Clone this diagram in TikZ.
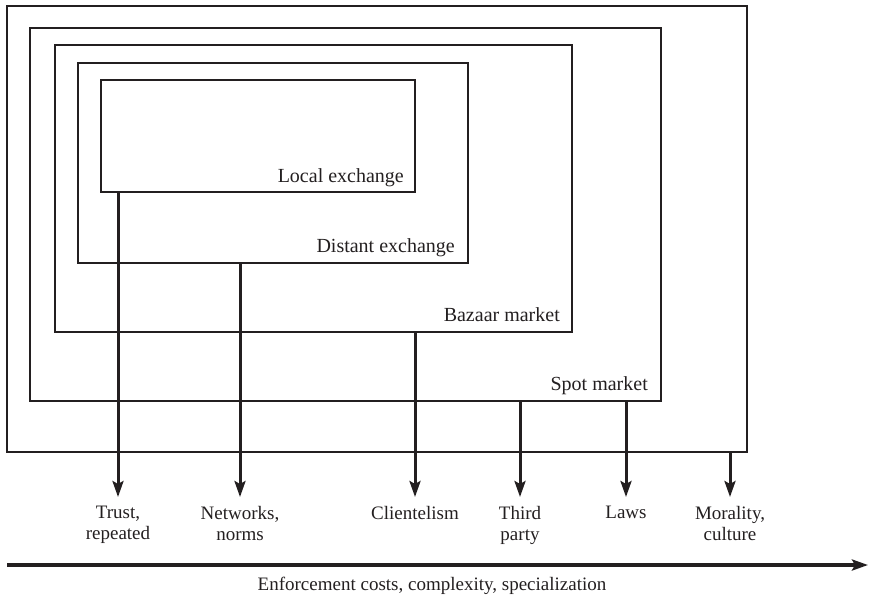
\documentclass[tikz,border=0pt]{standalone}
\usepackage{fontspec}
\setmainfont{Liberation Serif}
\usetikzlibrary{arrows.meta,positioning}
\definecolor{ink}{RGB}{35,31,32}
\begin{document}
\begin{tikzpicture}[x=1pt,y=-1pt,font=\fontsize{19}{21}\selectfont,line join=miter,
    >={Stealth[length=16pt,width=11pt,inset=3pt]},
    box/.style={draw=ink,line width=2.4pt,inner sep=0pt,outer sep=0pt,anchor=north west},
    boxlabel/.style={anchor=base east,inner sep=0pt,text=ink,font=\fontsize{20}{22}\selectfont},
    effect/.style={anchor=north,align=center,inner sep=0pt,text=ink},
    arr/.style={->,draw=ink,line width=3pt},
    axis/.style={->,draw=ink,line width=4pt}]
\useasboundingbox (0,0) rectangle (869,598);
% nested forms of exchange
\node[box,minimum width=740pt,minimum height=446pt] (outer) at (7,6) {};
\node[box,minimum width=631pt,minimum height=373pt] (spot) at (30,28) {};
\node[box,minimum width=517pt,minimum height=287pt] (bazaar) at (55,45) {};
\node[box,minimum width=390pt,minimum height=200pt] (distant) at (78,63) {};
\node[box,minimum width=314pt,minimum height=112pt] (local) at (101,80) {};
\node[boxlabel] (locallbl) at ([xshift=-11pt,yshift=10pt]local.south east) {Local exchange};
\node[boxlabel] (distantlbl) at ([xshift=-13pt,yshift=11pt]distant.south east) {Distant exchange};
\node[boxlabel] (bazaarlbl) at ([xshift=-12pt,yshift=11pt]bazaar.south east) {Bazaar market};
\node[boxlabel] (spotlbl) at ([xshift=-13pt,yshift=11pt]spot.south east) {Spot market};
% enforcement
\node[effect] (trust) at (118,506) {Trust,\\repeated};
\node[effect] (networks) at (240,506) {Networks,\\norms};
\node[effect] (clientelism) at (415,506) {Clientelism};
\node[effect] (thirdparty) at (520,506) {Third\\party};
\node[effect] (laws) at (626,506) {Laws};
\node[effect] (morality) at (730,506) {Morality,\\culture};
\draw[arr] (trust |- local.south) -- ([yshift=9pt]trust.north);
\draw[arr] (networks |- distant.south) -- ([yshift=9pt]networks.north);
\draw[arr] (clientelism |- bazaar.south) -- ([yshift=9pt]clientelism.north);
\draw[arr] (thirdparty |- spot.south) -- ([yshift=9pt]thirdparty.north);
\draw[arr] (laws |- spot.south) -- ([yshift=9pt]laws.north);
\draw[arr] (morality |- outer.south) -- ([yshift=9pt]morality.north);
% axis
\coordinate (axisstart) at (7,565);
\coordinate (axisend) at (868,565);
\draw[axis] (axisstart) -- (axisend);
\node[anchor=base,inner sep=0pt,text=ink] (axislbl) at (432,590) {Enforcement costs, complexity, specialization};
\end{tikzpicture}
\end{document}
